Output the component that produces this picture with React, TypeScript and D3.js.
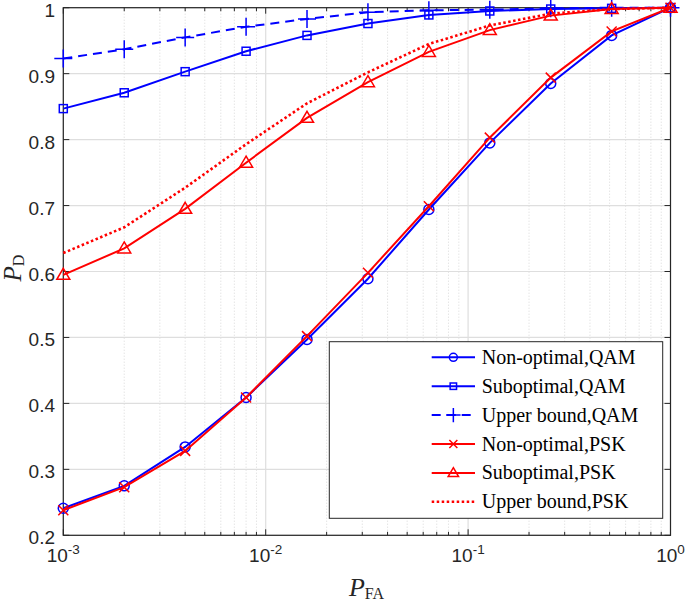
import React from 'react';
import * as d3 from 'd3';

const pfa = [0.001, 0.002, 0.004, 0.008, 0.016, 0.032, 0.064, 0.128, 0.256, 0.512, 1];
const nonOptQAM = [0.241, 0.275, 0.334, 0.409, 0.497, 0.589, 0.694, 0.795, 0.885, 0.958, 1.0];
const subOptQAM = [0.847, 0.871, 0.903, 0.934, 0.958, 0.976, 0.989, 0.995, 0.998, 0.999, 1.0];
const upperQAM = [0.923, 0.937, 0.955, 0.971, 0.983, 0.993, 0.996, 0.997, 0.999, 1.0, 1.0];
const nonOptPSK = [0.238, 0.273, 0.328, 0.409, 0.502, 0.598, 0.699, 0.803, 0.894, 0.964, 1.0];
const subOptPSK = [0.595, 0.635, 0.695, 0.765, 0.833, 0.887, 0.933, 0.966, 0.988, 0.998, 1.0];
const upperPSK = [0.628, 0.667, 0.727, 0.793, 0.855, 0.902, 0.945, 0.973, 0.991, 0.998, 1.0];

const seriesNames = [
  'Non-optimal,QAM',
  'Suboptimal,QAM',
  'Upper bound,QAM',
  'Non-optimal,PSK',
  'Suboptimal,PSK',
  'Upper bound,PSK',
];
const xTickExps = [-3, -2, -1, 0];
const yTicks = [0.2, 0.3, 0.4, 0.5, 0.6, 0.7, 0.8, 0.9, 1];

const BLUE = '#0000ff';
const RED = '#ff0000';

type Marker = 'circle' | 'square' | 'plus' | 'x' | 'triangle' | 'none';

const series: { name: string; values: number[]; color: string; dash: string | undefined; marker: Marker; width: number }[] = [
  { name: seriesNames[0], values: nonOptQAM, color: BLUE, dash: undefined, marker: 'circle', width: 2 },
  { name: seriesNames[1], values: subOptQAM, color: BLUE, dash: undefined, marker: 'square', width: 2 },
  { name: seriesNames[2], values: upperQAM, color: BLUE, dash: '9,6', marker: 'plus', width: 2 },
  { name: seriesNames[3], values: nonOptPSK, color: RED, dash: undefined, marker: 'x', width: 2 },
  { name: seriesNames[4], values: subOptPSK, color: RED, dash: undefined, marker: 'triangle', width: 2 },
  { name: seriesNames[5], values: upperPSK, color: RED, dash: '2.5,2.5', marker: 'none', width: 2.6 },
];

function MarkerShape({ kind, x, y, color, scale = 1 }: { kind: Marker; x: number; y: number; color: string; scale?: number }) {
  const sw = 1.5;
  const s = scale;
  if (kind === 'circle') return <circle cx={x} cy={y} r={5 * s} fill="none" stroke={color} strokeWidth={sw} />;
  if (kind === 'square')
    return <rect x={x - 4 * s} y={y - 4 * s} width={8 * s} height={8 * s} fill="none" stroke={color} strokeWidth={sw} />;
  if (kind === 'plus')
    return (
      <path d={`M${x - 9 * s},${y}H${x + 9 * s}M${x},${y - 9 * s}V${y + 9 * s}`} stroke={color} strokeWidth={sw} fill="none" />
    );
  if (kind === 'x')
    return (
      <path
        d={`M${x - 5 * s},${y - 5 * s}L${x + 5 * s},${y + 5 * s}M${x - 5 * s},${y + 5 * s}L${x + 5 * s},${y - 5 * s}`}
        stroke={color}
        strokeWidth={sw}
        fill="none"
      />
    );
  if (kind === 'triangle')
    return (
      <path
        d={`M${x},${y - 6.5 * s}L${x + 6.5 * s},${y + 4.5 * s}L${x - 6.5 * s},${y + 4.5 * s}Z`}
        stroke={color}
        strokeWidth={sw}
        fill="none"
      />
    );
  return null;
}

export default function App() {
  const W = 685;
  const H = 603;
  const left = 63.3;
  const right = 670.5;
  const top = 7.7;
  const bottom = 535.3;

  const x = d3.scaleLog().domain([0.001, 1]).range([left, right]);
  const y = d3.scaleLinear().domain([0.2, 1]).range([bottom, top]);

  const minor: number[] = [];
  for (const e of [-3, -2, -1]) for (let k = 2; k <= 9; k++) minor.push(k * Math.pow(10, e));

  const line = d3
    .line<[number, number]>()
    .x((d) => x(d[0]))
    .y((d) => y(d[1]));

  const legLeft = 329.3;
  const legTop = 341.7;
  const legW = 333.4;
  const legH = 176.6;
  const rowY0 = 357.3;
  const rowStep = 28.9;
  const sampleX1 = 431.7;
  const sampleX2 = 475;
  const textX = 481.7;

  return (
    <svg width={W} height={H} style={{ position: 'absolute', left: 0, top: 0, background: '#fff' }}>
      <rect x={0} y={0} width={W} height={H} fill="#fff" />
      {/* minor grid */}
      {minor.map((m, i) => (
        <line key={'mg' + i} x1={x(m)} x2={x(m)} y1={top} y2={bottom} stroke="#cfcfcf" strokeWidth={0.8} strokeDasharray="1,2" />
      ))}
      {/* major grid */}
      {xTickExps.map((e) => (
        <line key={'xg' + e} x1={x(Math.pow(10, e))} x2={x(Math.pow(10, e))} y1={top} y2={bottom} stroke="#dedede" strokeWidth={1.2} />
      ))}
      {yTicks.map((t) => (
        <line key={'yg' + t} x1={left} x2={right} y1={y(t)} y2={y(t)} stroke="#dedede" strokeWidth={1.2} />
      ))}
      {/* box */}
      <rect x={left} y={top} width={right - left} height={bottom - top} fill="none" stroke="#262626" strokeWidth={1.2} />
      {/* ticks */}
      {xTickExps.map((e) => {
        const px = x(Math.pow(10, e));
        return (
          <g key={'xt' + e}>
            <line x1={px} x2={px} y1={bottom} y2={bottom - 6} stroke="#262626" strokeWidth={1} />
            <line x1={px} x2={px} y1={top} y2={top + 6} stroke="#262626" strokeWidth={1} />
          </g>
        );
      })}
      {minor.map((m, i) => (
        <g key={'mt' + i}>
          <line x1={x(m)} x2={x(m)} y1={bottom} y2={bottom - 3.5} stroke="#262626" strokeWidth={1} />
          <line x1={x(m)} x2={x(m)} y1={top} y2={top + 3.5} stroke="#262626" strokeWidth={1} />
        </g>
      ))}
      {yTicks.map((t) => (
        <g key={'yt' + t}>
          <line x1={left} x2={left + 6} y1={y(t)} y2={y(t)} stroke="#262626" strokeWidth={1} />
          <line x1={right} x2={right - 6} y1={y(t)} y2={y(t)} stroke="#262626" strokeWidth={1} />
        </g>
      ))}
      {/* tick labels */}
      {yTicks.map((t) => (
        <text
          key={'yl' + t}
          x={left - 8.3}
          y={y(t) + 9}
          textAnchor="end"
          fontFamily="'Liberation Sans', Arial, sans-serif"
          fontSize={19}
          fill="#262626"
        >
          {t === 1 ? '1' : t.toFixed(1)}
        </text>
      ))}
      {xTickExps.map((e) => (
        <text
          key={'xl' + e}
          x={x(Math.pow(10, e))}
          y={562}
          textAnchor="middle"
          fontFamily="'Liberation Sans', Arial, sans-serif"
          fontSize={19}
          fill="#262626"
        >
          10
          <tspan dy={-8} fontSize={13.5}>
            {String(e)}
          </tspan>
        </text>
      ))}
      {/* axis titles */}
      <text x={366.5} y={596} textAnchor="middle" fontFamily="'Liberation Serif', 'Times New Roman', serif" fill="#262626">
        <tspan fontSize={26} fontStyle="italic">
          P
        </tspan>
        <tspan fontSize={16} dy={2.5}>
          FA
        </tspan>
      </text>
      <text
        transform={`translate(21,268) rotate(-90)`}
        textAnchor="middle"
        fontFamily="'Liberation Serif', 'Times New Roman', serif"
        fill="#262626"
      >
        <tspan fontSize={25} fontStyle="italic">
          P
        </tspan>
        <tspan fontSize={16} dy={2.5}>
          D
        </tspan>
      </text>
      {/* series */}
      {series.map((s, si) => {
        const pts: [number, number][] = pfa.map((p, i) => [p, s.values[i]]);
        return (
          <g key={'s' + si}>
            <path d={line(pts) || ''} fill="none" stroke={s.color} strokeWidth={s.width} strokeDasharray={s.dash} />
            {pts.map((d, i) => (
              <MarkerShape key={i} kind={s.marker} x={x(d[0])} y={y(d[1])} color={s.color} />
            ))}
          </g>
        );
      })}
      {/* legend */}
      <rect x={legLeft} y={legTop} width={legW} height={legH} fill="#fff" stroke="#262626" strokeWidth={1} />
      {series.map((s, i) => {
        const cy = rowY0 + i * rowStep;
        const mx = (sampleX1 + sampleX2) / 2;
        return (
          <g key={'lg' + i}>
            <line x1={sampleX1} x2={sampleX2} y1={cy} y2={cy} stroke={s.color} strokeWidth={s.width} strokeDasharray={s.dash} />
            <MarkerShape kind={s.marker} x={mx} y={cy} color={s.color} scale={0.8} />
            <text
              x={textX}
              y={cy + 6.5}
              fontFamily="'Liberation Serif', 'Times New Roman', serif"
              fontSize={20}
              fill="#000"
            >
              {s.name}
            </text>
          </g>
        );
      })}
    </svg>
  );
}
